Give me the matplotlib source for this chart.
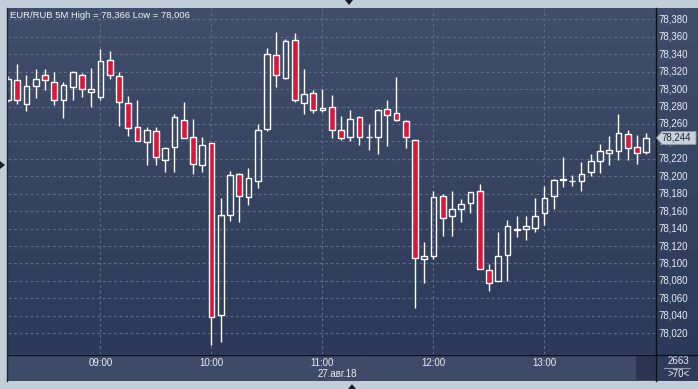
import numpy as np
import matplotlib
matplotlib.use("Agg")
import matplotlib.pyplot as plt
from matplotlib.patches import Rectangle, Polygon

# ---------------- data ----------------
start_time = "08:10"
opens = [78.288, 78.310, 78.283, 78.304, 78.316, 78.308, 78.288, 78.302, 78.316, 78.297,
         78.291, 78.333, 78.315, 78.284, 78.256, 78.239, 78.252, 78.219, 78.233, 78.264,
         78.245, 78.213, 78.238, 78.041, 78.156, 78.203, 78.176, 78.195, 78.254, 78.339,
         78.313, 78.356, 78.284, 78.295, 78.276, 78.279, 78.253, 78.245, 78.268, 78.245,
         78.245, 78.277, 78.272, 78.263, 78.242, 78.105, 78.108, 78.177, 78.154, 78.163,
         78.169, 78.183, 78.093, 78.080, 78.110, 78.140, 78.139, 78.141, 78.158, 78.177,
         78.196, 78.195, 78.195, 78.205, 78.217, 78.227, 78.229, 78.249, 78.233, 78.228]
highs = [78.315, 78.329, 78.316, 78.323, 78.323, 78.320, 78.308, 78.321, 78.318, 78.324,
         78.346, 78.344, 78.320, 78.292, 78.287, 78.256, 78.256, 78.234, 78.271, 78.285,
         78.266, 78.245, 78.238, 78.175, 78.206, 78.204, 78.209, 78.260, 78.347, 78.366,
         78.357, 78.364, 78.323, 78.299, 78.300, 78.293, 78.269, 78.276, 78.269, 78.260,
         78.277, 78.287, 78.314, 78.265, 78.242, 78.125, 78.183, 78.180, 78.183, 78.174,
         78.182, 78.191, 78.099, 78.136, 78.150, 78.154, 78.154, 78.175, 78.189, 78.197,
         78.222, 78.201, 78.216, 78.226, 78.237, 78.246, 78.271, 78.253, 78.247, 78.250]
lows = [78.285, 78.283, 78.275, 78.290, 78.299, 78.282, 78.267, 78.288, 78.291, 78.280,
        78.287, 78.312, 78.258, 78.246, 78.240, 78.213, 78.213, 78.205, 78.205, 78.244,
        78.203, 78.205, 78.006, 78.010, 78.149, 78.148, 78.167, 78.186, 78.252, 78.302,
        78.312, 78.285, 78.271, 78.272, 78.274, 78.244, 78.242, 78.240, 78.236, 78.230,
        78.225, 78.235, 78.263, 78.232, 78.049, 78.078, 78.105, 78.132, 78.132, 78.148,
        78.158, 78.094, 78.068, 78.080, 78.080, 78.130, 78.127, 78.136, 78.144, 78.162,
        78.188, 78.189, 78.183, 78.200, 78.204, 78.213, 78.219, 78.219, 78.214, 78.225]
closes = [78.311, 78.288, 78.303, 78.312, 78.310, 78.287, 78.305, 78.320, 78.300, 78.300,
          78.332, 78.316, 78.285, 78.255, 78.240, 78.253, 78.222, 78.232, 78.268, 78.244,
          78.214, 78.236, 78.039, 78.155, 78.201, 78.177, 78.198, 78.253, 78.340, 78.316,
          78.355, 78.287, 78.294, 78.276, 78.278, 78.253, 78.244, 78.266, 78.245, 78.245,
          78.276, 78.270, 78.264, 78.245, 78.106, 78.109, 78.176, 78.152, 78.162, 78.168,
          78.182, 78.094, 78.078, 78.108, 78.143, 78.138, 78.143, 78.155, 78.175, 78.196,
          78.197, 78.195, 78.203, 78.218, 78.229, 78.230, 78.250, 78.232, 78.227, 78.244]
y_ticks = [78.020, 78.040, 78.060, 78.080, 78.100, 78.120, 78.140, 78.160, 78.180, 78.200,
           78.220, 78.240, 78.260, 78.280, 78.300, 78.320, 78.340, 78.360, 78.380]
hour_labels = ["09:00", "10:00", "11:00", "12:00", "13:00"]
date_label = "27.авг.18"
title = "EUR/RUB 5M High = 78,366 Low = 78,006"
last_price = 78.244
volume_text = "2663"
count_text = ">70<"

# ---------------- helpers ----------------
W, H = 698, 389
FONT = ["Liberation Sans", "DejaVu Sans"]
FS = 7.0
TXT = "#e6edf5"
fig = plt.figure(figsize=(W / 100, H / 100), dpi=100)
fig.patch.set_facecolor("#c3cedb")


def px_axes(x0, y0, x1, y1, **kw):
    return fig.add_axes([x0 / W, 1 - y1 / H, (x1 - x0) / W, (y1 - y0) / H], **kw)


def fmt(v):
    return f"{v:.3f}".replace(".", ",")


# background gradient covering plot + right price panel
bg = px_axes(8, 8, 698, 354)
grad = np.linspace(0, 1, 256).reshape(-1, 1)
top = np.array([0x40, 0x4e, 0x6b]) / 255
bot = np.array([0x2c, 0x39, 0x58]) / 255
img = top[None, None, :] * (1 - grad[..., None]) + bot[None, None, :] * grad[..., None]
bg.imshow(img, aspect="auto", extent=[0, 1, 0, 1])
bg.set_axis_off()

# time-axis strip
tax = px_axes(8, 354, 655, 381)
tax.set_facecolor("#3e4b67")
tax.set_xticks([]); tax.set_yticks([])
for s in tax.spines.values():
    s.set_visible(False)

# bottom-right cell
cax = px_axes(655, 354, 698, 381)
cax.set_facecolor("#2f3b59")
cax.set_xticks([]); cax.set_yticks([])
for s in cax.spines.values():
    s.set_visible(False)
cax.set_xlim(0, 1); cax.set_ylim(0, 1)
cax.text(0.55, 0.74, volume_text, color=TXT, fontsize=FS, ha="center", va="center", family=FONT)
cax.plot([0.22, 0.82], [0.5, 0.5], color="#8d9ab0", lw=0.8)
cax.text(0.55, 0.26, count_text, color=TXT, fontsize=FS, ha="center", va="center", family=FONT)

# main price axes
ax = px_axes(8, 8, 655, 354)
ax.patch.set_alpha(0)
n = len(opens)
idx = np.arange(n)
x_lo, x_hi = 0.0, 69.95
ax.set_xlim(x_lo, x_hi)
y_top = 78.38 + (19.3 - 8) / 872
y_bot = 78.38 - (354 - 19.3) / 872
ax.set_ylim(y_bot, y_top)

# grid
h0, m0 = map(int, start_time.split(":"))
mins = h0 * 60 + m0 + 5 * idx
hour_idx = [int(i) for i in idx if mins[i] % 60 == 0]
for yv in y_ticks:
    ax.axhline(yv, color="#5d6c89", lw=0.8, ls=(0, (2.5, 2.5)), zorder=1)
for xi in hour_idx:
    ax.axvline(xi, color="#5d6c89", lw=0.8, ls=(0, (2.5, 2.5)), zorder=1)

# candles
o = np.array(opens); c = np.array(closes); hi = np.array(highs); lo = np.array(lows)
body_lo = np.minimum(o, c); body_hi = np.maximum(o, c)
up = c >= o
ax.vlines(idx, body_hi, hi, color="white", lw=1.0, zorder=2)
ax.vlines(idx, lo, body_lo, color="white", lw=1.0, zorder=2)
face = np.where(up, "none", "#dc1638")
ax.bar(idx, body_hi - body_lo, bottom=body_lo, width=0.64, color=list(face),
       edgecolor="white", linewidth=1.0, zorder=3)

ax.set_xticks([]); ax.set_yticks([])
for s in ax.spines.values():
    s.set_visible(False)

# separator lines
fig.add_artist(plt.Line2D([8 / W, 1], [1 - 354.5 / H] * 2, color="#0b0f18", lw=1.0))
fig.add_artist(plt.Line2D([655.5 / W] * 2, [1 - 8 / H, 1 - 381 / H], color="#0b0f18", lw=1.0))
fig.add_artist(plt.Line2D([7.5 / W] * 2, [1 - 8 / H, 1 - 381 / H], color="#1c2436", lw=1.0))


def ypx(v):
    return 8 + (y_top - v) / (y_top - y_bot) * (354 - 8)


# price labels (right panel)
for yv in y_ticks:
    fig.text(658 / W, 1 - ypx(yv) / H, fmt(yv), color=TXT, fontsize=FS,
             ha="left", va="center", family=FONT, zorder=3)

# last price marker (covers the label beneath it, as in the terminal)
yp = ypx(last_price)
marker = Polygon([[656.5 / W, 1 - yp / H], [662 / W, 1 - (yp - 6.5) / H],
                  [696 / W, 1 - (yp - 6.5) / H], [696 / W, 1 - (yp + 6.5) / H],
                  [662 / W, 1 - (yp + 6.5) / H]],
                 closed=True, transform=fig.transFigure, facecolor="#c9d1da",
                 edgecolor="#8a94a3", lw=0.6, zorder=5)
fig.add_artist(marker)
fig.text(661 / W, 1 - yp / H, fmt(last_price), color="#1d2433", fontsize=FS,
         ha="left", va="center", family=FONT, zorder=6)

# time labels
for xi, lab in zip(hour_idx, hour_labels):
    xp = 8 + (xi - x_lo) / (x_hi - x_lo) * (655 - 8)
    fig.text(xp / W, 1 - 362.5 / H, lab, color=TXT, fontsize=FS, ha="center",
             va="center", family=FONT)
fig.text(337 / W, 1 - 374 / H, date_label, color=TXT, fontsize=FS, ha="center",
         va="center", family=FONT)

# small dark scroll box
fig.add_artist(Rectangle((637 / W, 1 - 380 / H), 18 / W, 24 / H, transform=fig.transFigure,
                         facecolor="#2a3451", edgecolor="none"))
fig.add_artist(plt.Line2D([635.5 / W] * 2, [1 - 357 / H, 1 - 380 / H], color="#2e3850", lw=0.8))

# title
fig.text(10 / W, 1 - 15 / H, title, color="#f2f5f9", fontsize=6.8, ha="left", va="center",
         family=FONT)

# edge triangles
for pts in ([[345, 0], [353, 0], [349, 5]], [[0, 161], [0, 169], [5, 165]],
            [[348, 389], [356, 389], [352, 384]]):
    fig.add_artist(Polygon([[x / W, 1 - y / H] for x, y in pts], closed=True,
                           transform=fig.transFigure, facecolor="#1a1f2a", edgecolor="none"))

fig.savefig("out.png", dpi=100, facecolor=fig.get_facecolor())
